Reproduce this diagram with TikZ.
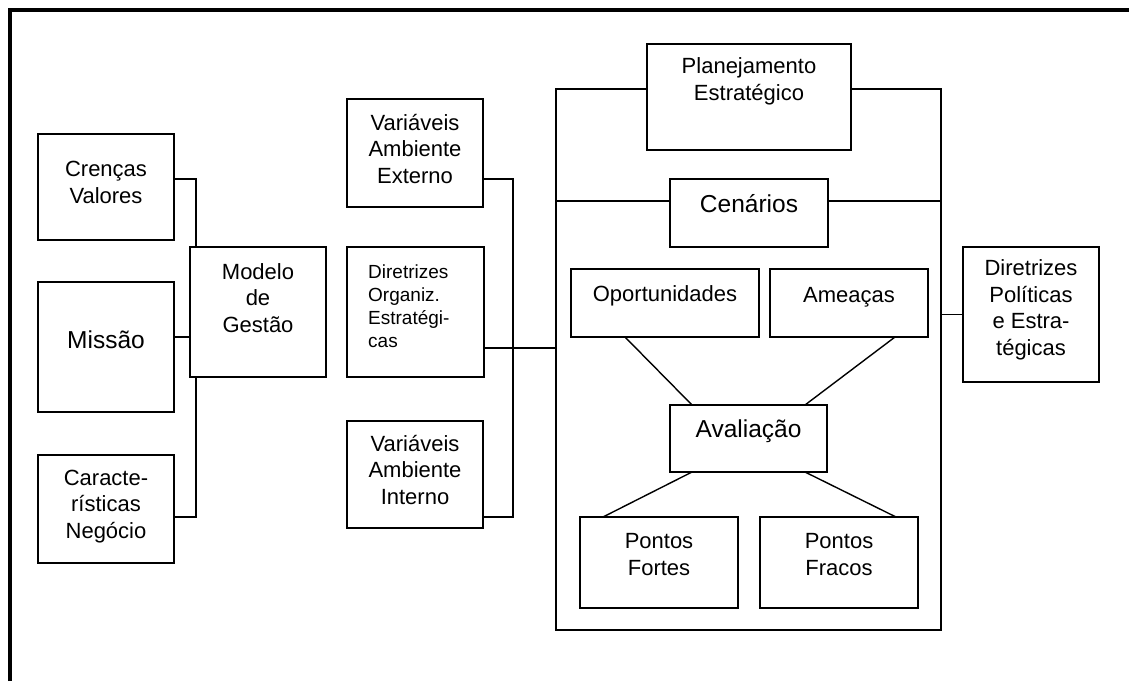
\documentclass[tikz,border=0pt]{standalone}
\usepackage{fontspec}
\setmainfont{Liberation Sans}
\usetikzlibrary{calc}
\tikzset{
  box/.style={draw, line width=1.4pt, fill=white, inner sep=0pt, outer sep=0pt},
  txt/.style={font=\fontsize{22}{26.5}\selectfont, align=center, anchor=base, inner sep=0pt},
  bigtxt/.style={font=\fontsize{24.5}{28}\selectfont, align=center, anchor=base, inner sep=0pt},
  smalltxt/.style={font=\fontsize{19}{22.7}\selectfont, align=left, anchor=base west, inner sep=0pt},
  conn/.style={line width=1.4pt},
}
\begin{document}
\begin{tikzpicture}[x=1pt,y=-1pt]
\useasboundingbox (0,0) rectangle (1129,681);
\fill[white] (0,0) rectangle (1129,681);
% frame
\draw[line width=4pt] (9.5,681) -- (9.5,10) -- (1129,10);

% big container
\node[box, minimum width=385pt, minimum height=541pt] (big) at (748.5,359.5) {};

% left column
\node[box, minimum width=136pt, minimum height=106pt] (cren) at (106,187) {};
\node[box, minimum width=136pt, minimum height=130pt] (miss) at (106,347) {};
\node[box, minimum width=136pt, minimum height=108pt] (cara) at (106,509) {};
\node[box, minimum width=136pt, minimum height=130pt] (mod) at (258,312) {};

% middle column
\node[box, minimum width=136pt, minimum height=108pt] (ext) at (415,153) {};
\node[box, minimum width=137pt, minimum height=130pt] (org) at (415.5,312) {};
\node[box, minimum width=136pt, minimum height=107pt] (int) at (415,474.5) {};

% inside container
\node[box, minimum width=204pt, minimum height=106pt] (plan) at (749,97) {};
\node[box, minimum width=158pt, minimum height=68pt] (cen) at (749,213) {};
\node[box, minimum width=188pt, minimum height=68pt] (opo) at (665,303) {};
\node[box, minimum width=158pt, minimum height=68pt] (ame) at (849,303) {};
\node[box, minimum width=157pt, minimum height=67pt] (ava) at (748.5,438.5) {};
\node[box, minimum width=158pt, minimum height=91pt] (pfo) at (659,562.5) {};
\node[box, minimum width=158pt, minimum height=91pt] (pfr) at (839,562.5) {};

% right
\node[box, minimum width=136pt, minimum height=135pt] (dpe) at (1031,314.5) {};

% texts (anchored at the baseline of the last line)
\node[txt] (tcren) at (106,203) {Crenças\\Valores};
\node[bigtxt] (tmiss) at (106,348) {Missão};
\node[txt] (tcara) at (106,538) {Caracte-\\rísticas\\Negócio};
\node[txt] (tmod) at (258,332) {Modelo\\de\\Gestão};
\node[txt] (text) at (415,183) {Variáveis\\Ambiente\\Externo};
\node[smalltxt] (torg) at (368,347) {Diretrizes\\Organiz.\\Estratégi-\\cas};
\node[txt] (tint) at (415,504) {Variáveis\\Ambiente\\Interno};
\node[txt] (tplan) at (749,100) {Planejamento\\Estratégico};
\node[bigtxt] (tcen) at (749,212) {Cenários};
\node[txt] (topo) at (665,301) {Oportunidades};
\node[txt] (tame) at (849,302) {Ameaças};
\node[bigtxt] (tava) at (748.5,437) {Avaliação};
\node[txt] (tpfo) at (659,575) {Pontos\\Fortes};
\node[txt] (tpfr) at (839,575) {Pontos\\Fracos};
\node[txt] (tdpe) at (1031,355) {Diretrizes\\Políticas\\e Estra-\\tégicas};

% connectors
\coordinate (j1) at (196,179);
\coordinate (j2) at (182,337);
\coordinate (j3) at (196,517);
\coordinate (j4) at (513,179);
\coordinate (j5) at (513,517);
\coordinate (j6) at (520,348);
\coordinate (j7) at (700,201);
\draw[conn] (cren.east |- j1) -- (j1) -- (j1 |- mod.north);
\draw[conn] (miss.east |- j2) -- (mod.west |- j2);
\draw[conn] (j1 |- mod.south) -- (j3) -- (cara.east |- j3);
\draw[conn] (ext.east |- j4) -- (j4) -- (j5) -- (int.east |- j5);
\draw[conn] (org.east |- j6) -- (big.west |- j6);
\draw[conn] (big.west |- j7) -- (cen.west |- j7);
\draw[conn] (cen.east |- j7) -- (big.east |- j7);
\draw[conn] (big.east |- dpe.west) -- (dpe.west);
\draw[conn] ($(opo.south west)+(54,0)$) -- ($(ava.north west)+(22,0)$);
\draw[conn] ($(ame.south west)+(125,0)$) -- ($(ava.north east)+(-22,0)$);
\draw[conn] ($(ava.south west)+(22,0)$) -- ($(pfo.north west)+(23,0)$);
\draw[conn] ($(ava.south east)+(-22,0)$) -- ($(pfr.north east)+(-22,0)$);
\end{tikzpicture}
\end{document}
